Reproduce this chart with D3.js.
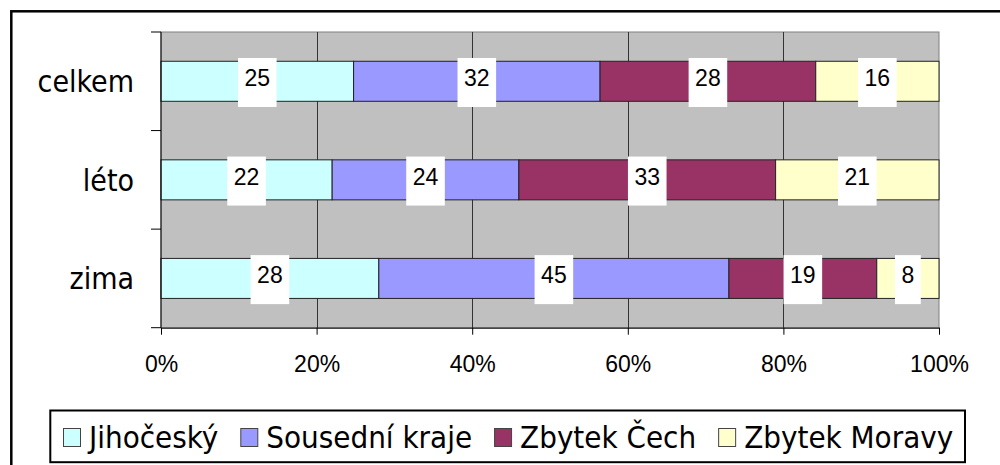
<!DOCTYPE html>
<html>
<head>
<meta charset="utf-8">
<script src="https://cdn.jsdelivr.net/npm/d3@7"></script>
<style>
  html, body { margin: 0; padding: 0; background: #fff; }
  svg { display: block; }
</style>
</head>
<body>
<div id="chart"></div>
<script>
// 100% stacked horizontal bars, values as shown in the data labels

const categories = ['celkem', 'léto', 'zima'];
const seriesNames = ['Jihočeský', 'Sousední kraje', 'Zbytek Čech', 'Zbytek Moravy'];
const jihocesky = [25, 22, 28];
const sousedniKraje = [32, 24, 45];
const zbytekCech = [28, 33, 19];
const zbytekMoravy = [16, 21, 8];
const xTickValues = [0, 0.2, 0.4, 0.6, 0.8, 1];
const seriesColors = ['#ccffff', '#9999ff', '#993366', '#ffffcc'];

const width = 1000;
const height = 465;
const plot = { left: 161, right: 939, top: 32, bottom: 327.7 };

const labelFont = '"DejaVu Sans Condensed", "DejaVu Sans", sans-serif';
const numFont = '"Liberation Sans", Arial, sans-serif';

// rows for the stack
const seriesValues = [jihocesky, sousedniKraje, zbytekCech, zbytekMoravy];
const rows = categories.map((c, i) => {
    const r = { cat: c };
    seriesNames.forEach((s, j) => { r[s] = seriesValues[j][i]; });
    return r;
});

const stacked = d3.stack()
    .keys(seriesNames)
    .offset(d3.stackOffsetExpand)(rows);

const svg = d3.select('#chart').append('svg')
    .attr('width', width)
    .attr('height', height);

// outer frame (runs off the right and bottom edges)
svg.append('rect')
    .attr('x', 11.3).attr('y', 11.3)
    .attr('width', 1000).attr('height', 500)
    .attr('fill', '#fff')
    .attr('stroke', '#000')
    .attr('stroke-width', 2.5);

const x = d3.scaleLinear().domain([0, 1]).range([plot.left, plot.right]);
const y = d3.scaleBand()
    .domain(categories)
    .range([plot.top, plot.bottom])
    .paddingInner(0.594)
    .paddingOuter(0.297);

// plot background
svg.append('rect')
    .attr('x', plot.left).attr('y', plot.top)
    .attr('width', plot.right - plot.left)
    .attr('height', plot.bottom - plot.top)
    .attr('fill', '#c0c0c0')
    .attr('stroke', '#808080')
    .attr('stroke-width', 1);

// vertical gridlines
svg.append('g')
    .selectAll('line')
    .data(xTickValues.filter(v => v > 0 && v < 1))
    .join('line')
    .attr('x1', d => Math.round(x(d)) + 0.5)
    .attr('x2', d => Math.round(x(d)) + 0.5)
    .attr('y1', plot.top)
    .attr('y2', plot.bottom)
    .attr('stroke', '#333')
    .attr('stroke-width', 1);

// bars
const layer = svg.append('g')
    .selectAll('g')
    .data(stacked)
    .join('g')
    .attr('fill', (d, i) => seriesColors[i]);

layer.selectAll('rect')
    .data(d => d)
    .join('rect')
    .attr('x', d => x(d[0]))
    .attr('y', d => y(d.data.cat))
    .attr('width', d => x(d[1]) - x(d[0]))
    .attr('height', y.bandwidth())
    .attr('stroke', '#222')
    .attr('stroke-width', 1);

// data labels with white boxes
const labels = svg.append('g')
    .selectAll('g')
    .data(stacked.flatMap(s => s.map(d => ({ key: s.key, d }))))
    .join('g')
    .attr('transform', o => {
        const cx = (x(o.d[0]) + x(o.d[1])) / 2;
        const cy = y(o.d.data.cat) + y.bandwidth() / 2 + 5;
        return `translate(${cx},${cy})`;
    });

labels.append('rect')
    .attr('fill', '#fff');

labels.append('text')
    .attr('text-anchor', 'middle')
    .attr('font-family', numFont)
    .attr('font-size', '23px')
    .attr('fill', '#000')
    .text(o => o.d.data[o.key]);

labels.each(function () {
    const g = d3.select(this);
    const w = g.select('text').node().getComputedTextLength();
    g.select('rect')
        .attr('x', -w / 2 - 6.5)
        .attr('y', -28.3)
        .attr('width', w + 13)
        .attr('height', 49);
});

// y axis line + ticks at band boundaries
const step = y.step();
const boundaries = categories.map(c => y(c) - (step - y.bandwidth()) / 2)
    .concat([plot.bottom]);

const yAxis = svg.append('g');
yAxis.append('line')
    .attr('x1', plot.left).attr('x2', plot.left)
    .attr('y1', plot.top).attr('y2', plot.bottom)
    .attr('stroke', '#000');
yAxis.selectAll('line.tick')
    .data(boundaries)
    .join('line')
    .attr('class', 'tick')
    .attr('x1', plot.left - 10).attr('x2', plot.left)
    .attr('y1', d => d).attr('y2', d => d)
    .attr('stroke', '#000');

yAxis.selectAll('text')
    .data(categories)
    .join('text')
    .attr('x', 134)
    .attr('y', c => y(c) + y.bandwidth() / 2 + 11)
    .attr('text-anchor', 'end')
    .attr('font-family', labelFont)
    .attr('font-size', '30px')
    .attr('fill', '#000')
    .text(c => c);

// x axis
const xAxis = svg.append('g')
    .attr('transform', `translate(0,${plot.bottom})`)
    .call(d3.axisBottom(x)
        .tickValues(xTickValues)
        .tickFormat(d3.format('.0%'))
        .tickSize(7)
        .tickSizeOuter(0));

xAxis.select('.domain').attr('stroke', '#000');
xAxis.selectAll('.tick line').attr('stroke', '#000');
xAxis.selectAll('.tick text')
    .attr('dy', null)
    .attr('y', 44)
    .attr('font-family', numFont)
    .attr('font-size', '23px')
    .attr('fill', '#000');

// legend
const legend = svg.append('g');
legend.append('rect')
    .attr('x', 50.3).attr('y', 410.5)
    .attr('width', 965 - 50.3).attr('height', 462.2 - 410.5)
    .attr('fill', '#fff')
    .attr('stroke', '#000')
    .attr('stroke-width', 2);

let lx = 63;
seriesNames.forEach((name, i) => {
    legend.append('rect')
        .attr('x', lx + 0.5).attr('y', 428.5)
        .attr('width', 17).attr('height', 18)
        .attr('fill', seriesColors[i])
        .attr('stroke', '#444')
        .attr('stroke-width', 1);
    const t = legend.append('text')
        .attr('x', lx + 26)
        .attr('y', 447.5)
        .attr('font-family', labelFont)
        .attr('font-size', '31px')
        .attr('fill', '#000')
        .text(name);
    lx += 26 + t.node().getComputedTextLength() + 22;
});
</script>
</body>
</html>
